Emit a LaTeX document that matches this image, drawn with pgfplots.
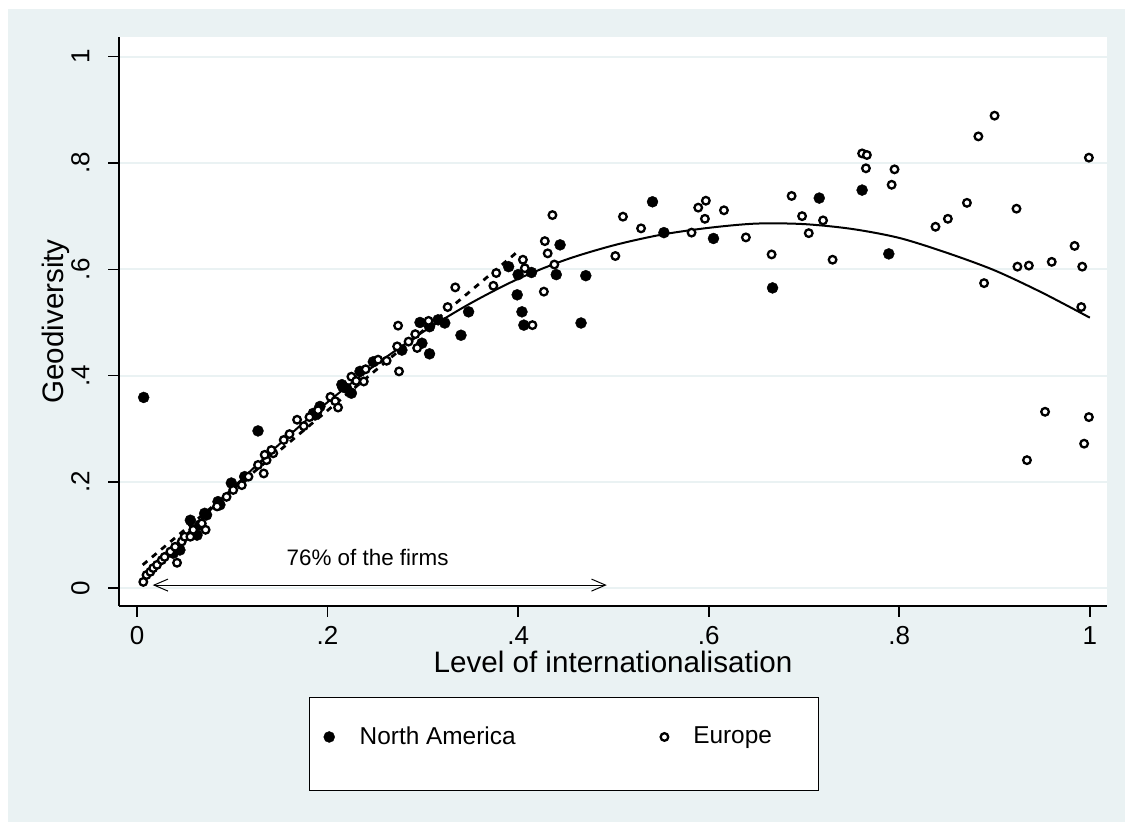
\documentclass[border=0pt]{standalone}
\usepackage{fontspec}
\setmainfont{Liberation Sans}
\usepackage{pgfplots}
\pgfplotsset{compat=1.18}
\usetikzlibrary{arrows.meta}
\definecolor{bgc}{RGB}{234,242,243}

\begin{document}
\begin{tikzpicture}
\useasboundingbox (-59.5pt,-108pt) rectangle (503pt,303pt);
\fill[white] (-59.5pt,-108pt) rectangle (503pt,303pt);
\fill[bgc] (-55.5pt,-108pt) rectangle (503pt,298.5pt);
% legend frame
\draw[black, line width=0.5pt, fill=white] (95pt,-46pt) rectangle (349.5pt,-92.5pt);
\begin{axis}[
  scale only axis, width=494pt, height=284.5pt,
  xmin=-0.0189, xmax=1.018, ymin=-0.0333, ymax=1.037,
  axis x line*=bottom, axis y line*=left,
  axis line style={line width=0.8pt,-},
  tick align=outside, major tick length=5.5pt,
  tick style={line width=0.8pt, black},
  xtick={0,0.2,0.4,0.6,0.8,1}, xticklabels={0,.2,.4,.6,.8,1},
  ytick={0,0.2,0.4,0.6,0.8,1}, yticklabels={0,.2,.4,.6,.8,1},
  ymajorgrids, major grid style={bgc, line width=1pt},
  axis background/.style={fill=white},
  tick label style={font=\fontsize{13}{15}\selectfont},
  /pgf/number format/assume math mode=true,
  xticklabel style={anchor=base, inner sep=0pt},
  yticklabel style={rotate=90, anchor=base, inner sep=0pt},
  xticklabel shift=14pt, yticklabel shift=9.3pt,
  every axis x label/.style={at={(axis description cs:0.5,-0.1169)}, anchor=base,
    font=\fontsize{14.8}{17}\selectfont},
  every axis y label/.style={at={(axis description cs:-0.0565,0.5)}, rotate=90, anchor=base,
    font=\fontsize{14.8}{17}\selectfont},
  xlabel={Level of internationalisation},
  ylabel={Geodiversity},
  legend columns=2,
  legend image code/.code={\draw[#1] plot coordinates {(0pt,0pt)};},
  legend style={draw=none, fill=none, at={(axis description cs:0.2068,-0.2302)}, anchor=west,
    font=\fontsize{12.2}{14}\selectfont, inner sep=0pt, nodes={inner sep=0pt},
    /tikz/every odd column/.style={column sep=12.5pt},
    /tikz/every even column/.style={column sep=72.5pt}},
]
% North America
\addplot[only marks, mark=*, mark size=2.75pt, mark options={draw=black, fill=black, line width=0.2pt}]
coordinates {
(0.007,0.359) (0.038,0.066) (0.045,0.072) (0.056,0.128) (0.063,0.100) (0.066,0.119)
(0.071,0.141) (0.073,0.138) (0.085,0.163) (0.087,0.157) (0.099,0.198) (0.113,0.210)
(0.127,0.296) (0.185,0.329) (0.187,0.326) (0.192,0.342) (0.215,0.383) (0.216,0.379)
(0.220,0.376) (0.225,0.367) (0.234,0.408) (0.248,0.426) (0.278,0.448) (0.297,0.500)
(0.299,0.461) (0.307,0.492) (0.307,0.441) (0.316,0.505) (0.323,0.499) (0.340,0.476)
(0.348,0.520) (0.390,0.605) (0.400,0.590) (0.414,0.594) (0.399,0.552) (0.404,0.520)
(0.406,0.495) (0.440,0.590) (0.444,0.646) (0.471,0.588) (0.466,0.499) (0.541,0.727)
(0.553,0.669) (0.605,0.658) (0.667,0.565) (0.716,0.734) (0.761,0.749) (0.789,0.629)
};
% Europe
\addplot[only marks, mark=*, mark size=1.9pt, mark options={draw=black, fill=white, line width=1.15pt}]
coordinates {
(0.0066,0.012) (0.010,0.025) (0.014,0.031) (0.017,0.038) (0.021,0.044) (0.026,0.053)
(0.029,0.059) (0.035,0.069) (0.040,0.078) (0.042,0.048) (0.047,0.088) (0.050,0.097)
(0.056,0.097) (0.059,0.110) (0.068,0.122) (0.072,0.110) (0.084,0.154) (0.094,0.172)
(0.101,0.185) (0.110,0.194) (0.117,0.210) (0.127,0.232) (0.133,0.216) (0.136,0.241)
(0.143,0.254) (0.134,0.251) (0.141,0.260) (0.154,0.279) (0.160,0.290) (0.168,0.317)
(0.175,0.305) (0.181,0.322) (0.190,0.335) (0.203,0.360) (0.208,0.352) (0.211,0.340)
(0.225,0.398) (0.230,0.390) (0.238,0.389) (0.240,0.412) (0.253,0.430) (0.262,0.428)
(0.273,0.455) (0.274,0.494) (0.275,0.408) (0.285,0.464) (0.292,0.478) (0.294,0.452)
(0.306,0.503) (0.326,0.529) (0.334,0.566) (0.374,0.569) (0.377,0.593) (0.405,0.618)
(0.407,0.602) (0.415,0.495) (0.427,0.558) (0.428,0.653) (0.431,0.630) (0.436,0.702)
(0.438,0.609) (0.502,0.625) (0.510,0.699) (0.529,0.677) (0.582,0.669) (0.589,0.716)
(0.597,0.729) (0.596,0.695) (0.616,0.711) (0.639,0.660) (0.666,0.628) (0.687,0.738)
(0.698,0.700) (0.705,0.668) (0.720,0.692) (0.730,0.618) (0.761,0.818) (0.766,0.815)
(0.765,0.790) (0.792,0.759) (0.795,0.788) (0.838,0.680) (0.851,0.695) (0.871,0.725)
(0.883,0.850) (0.900,0.889) (0.889,0.574) (0.923,0.714) (0.924,0.605) (0.936,0.607)
(0.960,0.614) (0.984,0.644) (0.992,0.605) (0.991,0.529) (0.999,0.810) (0.953,0.332)
(0.999,0.322) (0.994,0.272) (0.934,0.241)
};
% linear fit, first part
\addplot[forget plot, black, line width=1.4pt, dash pattern=on 3pt off 3pt]
coordinates {(0.006,0.044) (0.398,0.631)};
% quadratic fit
\addplot[forget plot, black, line width=1pt, smooth]
coordinates {
(0.01,0.022) (0.05,0.098) (0.10,0.188) (0.15,0.272) (0.20,0.350) (0.25,0.420)
(0.30,0.482) (0.35,0.536) (0.40,0.582) (0.45,0.618) (0.50,0.645) (0.55,0.665)
(0.60,0.678) (0.65,0.686) (0.70,0.685) (0.75,0.676) (0.80,0.659) (0.85,0.631)
(0.90,0.598) (0.95,0.556) (1.00,0.509)
};
\legend{North America, Europe}
\draw[{Straight Barb[length=7pt,width=6pt]}-{Straight Barb[length=7pt,width=6pt]}, line width=0.5pt]
  (axis cs:0.0165,0.006) -- (axis cs:0.493,0.006);
\node[anchor=base, font=\fontsize{11.2}{13}\selectfont] at (axis cs:0.242,0.042) {76\% of the firms};
\end{axis}
\end{tikzpicture}
\end{document}
